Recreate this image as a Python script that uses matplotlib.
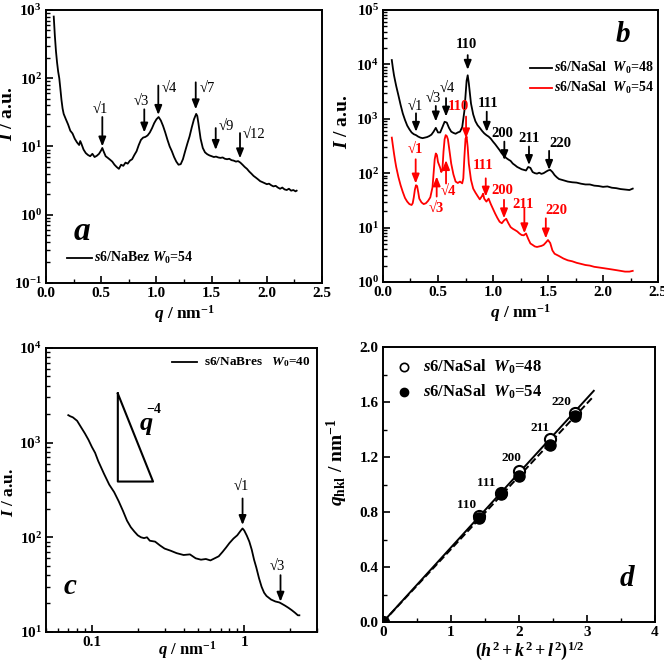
import matplotlib
matplotlib.use("Agg")
import matplotlib.pyplot as plt
import numpy as np
from matplotlib.ticker import LogLocator, MultipleLocator, NullFormatter, FixedLocator

plt.rcParams['font.family'] = ['Liberation Serif', 'DejaVu Serif']
plt.rcParams['font.weight'] = 'bold'
plt.rcParams['mathtext.fontset'] = 'custom'
plt.rcParams['mathtext.rm'] = 'Liberation Serif:bold'
plt.rcParams['mathtext.it'] = 'Liberation Serif:italic:bold'
plt.rcParams['mathtext.bf'] = 'Liberation Serif:bold'
plt.rcParams['axes.linewidth'] = 1.4

# ---------------- data ----------------
# panel a: s6/NaBez W0=54
qa = [0.07, 0.08, 0.09, 0.10, 0.11, 0.12, 0.13, 0.14, 0.15, 0.16, 0.18, 0.20, 0.22, 0.24,
      0.26, 0.28, 0.30, 0.31, 0.32, 0.34, 0.36, 0.38, 0.40, 0.42, 0.44, 0.46, 0.48, 0.50,
      0.51, 0.52, 0.54, 0.56, 0.58, 0.60, 0.62, 0.64, 0.66, 0.68, 0.70, 0.72, 0.74, 0.76,
      0.78, 0.80, 0.82, 0.84, 0.86, 0.88, 0.90, 0.92, 0.94, 0.96, 0.98, 1.00, 1.02, 1.04,
      1.06, 1.08, 1.10, 1.12, 1.14, 1.16, 1.18, 1.20, 1.22, 1.24, 1.26, 1.28, 1.30, 1.32,
      1.34, 1.36, 1.37, 1.38, 1.40, 1.42, 1.44, 1.46, 1.48, 1.50, 1.52, 1.54, 1.56, 1.58,
      1.60, 1.62, 1.64, 1.66, 1.68, 1.70, 1.72, 1.74, 1.76, 1.78, 1.80, 1.82, 1.84, 1.86,
      1.88, 1.90, 1.92, 1.94, 1.96, 1.98, 2.00, 2.02, 2.04, 2.06, 2.08, 2.10, 2.12, 2.14,
      2.16, 2.18, 2.20, 2.22, 2.24, 2.26, 2.27]
Ia = [800, 420, 250, 170, 125, 100, 70, 48, 36, 30, 25, 21, 17, 15.5,
      13, 11.5, 10.5, 12, 11, 9, 8, 7.5, 7.2, 7.8, 7.0, 7.3, 7.8, 8.8,
      9.5, 8.6, 7.2, 6.8, 6.4, 6.0, 5.4, 5.0, 4.7, 5.4, 5.2, 5.8, 5.6, 6.2,
      6.5, 7.5, 8.5, 10.5, 12.5, 13.5, 13.8, 14.5, 16, 18.5, 22, 25, 27, 24,
      20, 16, 12.5, 10, 8.5, 7.0, 6.0, 5.4, 5.5, 6.5, 8.5, 11, 14, 19,
      25, 30, 28, 22, 13, 9.5, 8.2, 7.7, 7.4, 7.2, 7.0, 7.1, 6.9, 6.8,
      6.9, 6.6, 6.5, 6.6, 6.3, 6.2, 6.0, 6.1, 5.8, 5.4, 5.0, 4.7, 4.3, 4.0,
      3.7, 3.5, 3.3, 3.1, 3.0, 2.9, 2.8, 2.85, 2.7, 2.6, 2.65, 2.5, 2.4, 2.5,
      2.35, 2.3, 2.4, 2.25, 2.3, 2.2, 2.25]
a_peaks = ['√1', '√3', '√4', '√7', '√9', '√12']
a_peak_q = [0.51, 0.89, 1.017, 1.356, 1.537, 1.757]

# panel b
qb48 = [0.08, 0.09, 0.10, 0.11, 0.12, 0.14, 0.16, 0.18, 0.20, 0.22, 0.24, 0.26, 0.28, 0.30,
        0.32, 0.34, 0.36, 0.38, 0.40, 0.42, 0.44, 0.46, 0.48, 0.50, 0.52, 0.54, 0.56, 0.58,
        0.60, 0.62, 0.64, 0.66, 0.68, 0.70, 0.72, 0.74, 0.76, 0.77, 0.78, 0.80, 0.82, 0.84,
        0.86, 0.88, 0.90, 0.92, 0.94, 0.96, 0.98, 1.00, 1.02, 1.04, 1.06, 1.08, 1.10, 1.12,
        1.14, 1.16, 1.18, 1.20, 1.22, 1.24, 1.26, 1.28, 1.30, 1.32, 1.34, 1.36, 1.38, 1.40,
        1.42, 1.44, 1.46, 1.48, 1.50, 1.52, 1.54, 1.56, 1.58, 1.60, 1.64, 1.68, 1.72, 1.76,
        1.80, 1.84, 1.88, 1.92, 1.96, 2.00, 2.04, 2.08, 2.12, 2.16, 2.20, 2.24, 2.27]
Ib48 = [12000, 8500, 6300, 5000, 4000, 2700, 1800, 1250, 950, 750, 640, 560, 520, 500,
        470, 450, 440, 450, 460, 480, 510, 580, 680, 560, 560, 700, 880, 850,
        680, 580, 550, 530, 560, 580, 700, 1400, 5000, 6300, 4500, 1900, 1200, 900,
        760, 680, 600, 540, 500, 470, 430, 380, 340, 300, 265, 230, 210, 190,
        178, 168, 150, 140, 130, 124, 118, 115, 112, 130, 125, 105, 100, 98,
        102, 97, 100, 106, 112, 115, 105, 92, 84, 78, 74, 70, 68, 67,
        64, 62, 62, 59, 58, 56, 57, 54, 53, 51, 50, 49, 52]
qb54 = [0.08, 0.09, 0.10, 0.11, 0.12, 0.14, 0.16, 0.18, 0.20, 0.22, 0.24, 0.26, 0.27, 0.28,
        0.29, 0.30, 0.31, 0.32, 0.33, 0.35, 0.37, 0.39, 0.41, 0.43, 0.45, 0.47, 0.48, 0.49,
        0.50, 0.52, 0.53, 0.54, 0.55, 0.56, 0.57, 0.58, 0.59, 0.60, 0.62, 0.64, 0.66, 0.68,
        0.70, 0.72, 0.73, 0.74, 0.75, 0.76, 0.77, 0.78, 0.80, 0.82, 0.84, 0.86, 0.88, 0.90,
        0.91, 0.92, 0.94, 0.96, 0.98, 1.00, 1.02, 1.04, 1.06, 1.08, 1.10, 1.12, 1.14, 1.16,
        1.18, 1.20, 1.22, 1.24, 1.26, 1.28, 1.30, 1.32, 1.34, 1.36, 1.38, 1.40, 1.42, 1.44,
        1.46, 1.48, 1.50, 1.52, 1.54, 1.56, 1.60, 1.64, 1.68, 1.72, 1.76, 1.80, 1.84, 1.88,
        1.92, 1.96, 2.00, 2.04, 2.08, 2.12, 2.16, 2.20, 2.24, 2.27]
Ib54 = [450, 320, 230, 170, 130, 85, 60, 45, 35, 30, 27, 26, 28, 36,
        50, 60, 58, 45, 34, 29, 27, 28, 31, 36, 55, 180, 230, 215,
        160, 125, 105, 115, 250, 420, 500, 480, 420, 300, 150, 95, 70, 66,
        70, 65, 80, 200, 430, 470, 300, 150, 75, 52, 44, 38, 33, 38,
        42, 34, 30, 34, 27, 22, 18, 15, 12.8, 12, 13.5, 14.5, 12, 10.2,
        9.5, 9.0, 8.5, 7.8, 7.3, 7.2, 7.8, 6.2, 5.1, 4.8, 4.5, 4.4, 4.5, 4.6,
        4.8, 5.3, 5.9, 5.2, 3.8, 3.3, 3.0, 2.7, 2.5, 2.4, 2.25, 2.15, 2.05, 2.0,
        1.9, 1.85, 1.8, 1.75, 1.7, 1.65, 1.6, 1.55, 1.55, 1.6]
b_labels = ['√1', '√3', '√4', '110', '111', '200', '211', '220']
b48_q = [0.30, 0.48, 0.573, 0.77, 0.943, 1.103, 1.327, 1.51]
b54_q = [0.297, 0.488, 0.573, 0.755, 0.934, 1.10, 1.285, 1.48]

# panel c: s6/NaBres W0=40
qc = [0.070, 0.072, 0.075, 0.080, 0.085, 0.090, 0.095, 0.100, 0.105, 0.110, 0.120, 0.130,
      0.140, 0.150, 0.160, 0.170, 0.180, 0.190, 0.200, 0.210, 0.220, 0.230, 0.240, 0.260,
      0.280, 0.300, 0.330, 0.360, 0.400, 0.440, 0.480, 0.520, 0.560, 0.600, 0.640, 0.680,
      0.720, 0.760, 0.800, 0.850, 0.900, 0.950, 0.975, 1.000, 1.040, 1.080, 1.120, 1.160,
      1.200, 1.250, 1.300, 1.350, 1.400, 1.500, 1.600, 1.700, 1.750, 1.850, 1.950, 2.050,
      2.150, 2.250, 2.300]
Ic = [1950, 1900, 1850, 1700, 1450, 1250, 1070, 900, 780, 640, 470, 360,
      300, 240, 190, 150, 128, 115, 105, 100, 98, 100, 92, 90,
      82, 76, 72, 68, 65, 66, 60, 58, 59, 57, 60, 63,
      70, 78, 87, 97, 105, 118, 124, 118, 104, 90, 74, 58,
      48, 37, 30, 26, 24, 22, 21, 20.5, 20, 19, 18, 17,
      16, 15, 15]
c_peaks = ['√1', '√3']
c_peak_q = [0.975, 1.73]

# panel d
hkl = ['110', '111', '200', '211', '220']
sqrt_hkl = [0.0, 1.414, 1.732, 2.0, 2.449, 2.828]
qhkl_48 = [0.0, 0.77, 0.94, 1.10, 1.33, 1.52]
qhkl_54 = [0.0, 0.755, 0.93, 1.06, 1.29, 1.495]

# ---------------- figure ----------------
fig = plt.figure(figsize=(6.64, 6.63), dpi=100)
axa = fig.add_axes([0.0693, 0.5732, 0.4157, 0.4118])
axb = fig.add_axes([0.5768, 0.5747, 0.4142, 0.4103])
axc = fig.add_axes([0.0693, 0.0468, 0.4080, 0.4284])
axd = fig.add_axes([0.5768, 0.0618, 0.4096, 0.4148])

TICK = 11

def style(ax):
    ax.tick_params(which='both', direction='in', top=False, right=False, labelsize=TICK)
    ax.tick_params(which='major', length=5, width=1.2, pad=3)
    ax.tick_params(which='minor', length=3, width=1.0)
    for t in ax.get_xticklabels() + ax.get_yticklabels():
        t.set_fontweight('bold')

def arrow(ax, x, y0, y1, color='black'):
    ax.annotate('', xy=(x, y1), xytext=(x, y0),
                arrowprops=dict(arrowstyle='-|>,head_length=0.55,head_width=0.22',
                                color=color, lw=1.3, shrinkA=0, shrinkB=0))

def labels(ax, ylab, ysize, ycoords, xlab, xsize, xcoords):
    ax.set_ylabel(ylab, fontsize=ysize, fontweight='bold')
    ax.yaxis.set_label_coords(*ycoords)
    ax.set_xlabel(xlab, fontsize=xsize, fontweight='bold')
    ax.xaxis.set_label_coords(*xcoords)

# ---- a ----
axa.plot(qa, Ia, color='black', lw=1.3)
axa.set_yscale('log')
axa.set_xlim(0, 2.5)
axa.set_ylim(0.1, 1000)
axa.xaxis.set_major_locator(MultipleLocator(0.5))
axa.xaxis.set_minor_locator(MultipleLocator(0.25))
axa.xaxis.set_major_formatter(plt.FormatStrFormatter('%.1f'))
axa.yaxis.set_major_locator(LogLocator(base=10, numticks=10))
axa.yaxis.set_minor_locator(LogLocator(base=10, subs=np.arange(2, 10), numticks=10))
axa.yaxis.set_minor_formatter(NullFormatter())
style(axa)
labels(axa, r'$I$ / a.u.', 14, (-0.11, 0.62), r'$q$ / nm$^{-1}$', 12.5, (0.5, -0.075))
a_tail = [27, 35, 78, 87, 18.6, 15.7]
a_tip = [10, 16, 29, 35, 8.9, 6.7]
a_lab_xy = [(0.49, 35, 'center'), (0.867, 46, 'center'), (1.05, 71, 'left'),
            (1.39, 71, 'left'), (1.56, 19.5, 'left'), (1.78, 14.8, 'left')]
for lab, q, t0, t1, (lx, ly, ha) in zip(a_peaks, a_peak_q, a_tail, a_tip, a_lab_xy):
    arrow(axa, q, t0, t1)
    axa.text(lx, ly, lab, fontsize=10.5, fontweight='normal', ha=ha, va='center')
axa.text(0.13, 0.19, 'a', transform=axa.transAxes, fontsize=24, fontweight='bold',
         fontstyle='italic', ha='center', va='center')
axa.plot([0.075, 0.166], [0.09, 0.09], transform=axa.transAxes, color='black', lw=1.3)
axa.text(0.174, 0.09, r'$s$6/NaBez $W_0$=54', transform=axa.transAxes, fontsize=10,
         fontweight='bold', ha='left', va='center')

# ---- b ----
axb.plot(qb48, Ib48, color='black', lw=1.3)
axb.plot(qb54, Ib54, color='red', lw=1.3)
axb.set_yscale('log')
axb.set_xlim(0, 2.5)
axb.set_ylim(1, 1e5)
axb.xaxis.set_major_locator(MultipleLocator(0.5))
axb.xaxis.set_minor_locator(MultipleLocator(0.25))
axb.xaxis.set_major_formatter(plt.FormatStrFormatter('%.1f'))
axb.yaxis.set_major_locator(LogLocator(base=10, numticks=10))
axb.yaxis.set_minor_locator(LogLocator(base=10, subs=np.arange(2, 10), numticks=10))
axb.yaxis.set_minor_formatter(NullFormatter())
style(axb)
labels(axb, r'$I$ / a.u.', 14, (-0.116, 0.59), r'$q$ / nm$^{-1}$', 12.5, (0.5, -0.075))
b48_tail = [10**3.10, 10**3.235, 10**3.38, 10**4.17, 10**3.13, 10**2.58, 10**2.49, 10**2.41]
b48_tip = [10**2.76, 10**2.95, 10**3.04, 10**3.90, 10**2.76, 10**2.24, 10**2.15, 10**2.06]
b48_lab = [(0.29, 10**3.22), (0.458, 10**3.38), (0.58, 10**3.56), (0.76, 10**4.36),
           (0.957, 10**3.285), (1.088, 10**2.73), (1.327, 10**2.64), (1.61, 10**2.55)]
for lab, q, t0, t1, (lx, ly) in zip(b_labels, b48_q, b48_tail, b48_tip, b48_lab):
    arrow(axb, q, t0, t1, 'black')
    fw = 'normal' if lab.startswith('√') else 'bold'
    axb.text(lx, ly, lab, fontsize=10.5, fontweight=fw, ha='center', va='center', color='black')
b54_tail = [10**2.255, 10**1.57, 10**1.81, 10**3.04, 10**1.905, 10**1.51, 10**1.355, 10**1.17]
b54_tip = [10**1.81, 10**1.94, 10**2.24, 10**2.64, 10**1.57, 10**1.17, 10**0.895, 10**0.80]
b54_lab = [(0.29, 10**2.43), (0.488, 10**1.355), (0.594, 10**1.66), (0.69, 10**3.22),
           (0.91, 10**2.15), (1.088, 10**1.69), (1.27, 10**1.415), (1.58, 10**1.32)]
for lab, q, t0, t1, (lx, ly) in zip(b_labels, b54_q, b54_tail, b54_tip, b54_lab):
    arrow(axb, q, t0, t1, 'red')
    axb.text(lx, ly, lab, fontsize=10.5, fontweight='bold', ha='center', va='center', color='red')
axb.text(0.874, 0.908, 'b', transform=axb.transAxes, fontsize=21, fontweight='bold',
         fontstyle='italic', ha='center', va='center')
for yy, col, w in [(0.786, 'black', '48'), (0.714, 'red', '54')]:
    axb.plot([0.535, 0.614], [yy, yy], transform=axb.transAxes, color=col, lw=1.3)
    axb.text(0.622, yy, r'$s$6/NaSal  $W_0$=' + w, transform=axb.transAxes, fontsize=10,
             fontweight='bold', ha='left', va='center')

# ---- c ----
axc.plot(qc, Ic, color='black', lw=1.3)
axc.set_xscale('log')
axc.set_yscale('log')
axc.set_xlim(0.05, 3)
axc.set_ylim(10, 1e4)
axc.xaxis.set_major_locator(FixedLocator([0.1, 1]))
axc.xaxis.set_major_formatter(plt.FixedFormatter(['0.1', '1']))
axc.xaxis.set_minor_locator(LogLocator(base=10, subs=np.arange(2, 10), numticks=10))
axc.xaxis.set_minor_formatter(NullFormatter())
axc.yaxis.set_major_locator(LogLocator(base=10, numticks=10))
axc.yaxis.set_minor_locator(LogLocator(base=10, subs=np.arange(2, 10), numticks=10))
axc.yaxis.set_minor_formatter(NullFormatter())
style(axc)
labels(axc, r'$I$ / a.u.', 12.5, (-0.107, 0.49), r'$q$ / nm$^{-1}$', 12, (0.52, -0.025))
c_tail = [10**2.41, 10**1.60]
c_tip = [10**2.13, 10**1.32]
c_lab = [(0.95, 10**2.535), (1.65, 10**1.69)]
for lab, q, t0, t1, (lx, ly) in zip(c_peaks, c_peak_q, c_tail, c_tip, c_lab):
    arrow(axc, q, t0, t1)
    axc.text(lx, ly, lab, fontsize=10.5, fontweight='normal', ha='center', va='center')
# q^-4 slope triangle
tri_q = [0.148, 0.148, 0.252, 0.148]
tri_I = [3300, 388, 388, 3300]
axc.plot(tri_q, tri_I, color='black', lw=1.5)
axc.text(0.229, 10**3.18, r'$q$', fontsize=19, ha='center', va='center')
axc.text(0.254, 10**3.35, '\u22124', fontsize=10, fontweight='bold', ha='center', va='center')
axc.text(0.089, 0.159, 'c', transform=axc.transAxes, fontsize=21, fontweight='bold',
         fontstyle='italic', ha='center', va='center')
axc.plot([0.465, 0.556], [0.951, 0.951], transform=axc.transAxes, color='black', lw=1.3)
axc.text(0.583, 0.951, r's6/NaBres   $W_0$=40', transform=axc.transAxes, fontsize=9.5,
         fontweight='bold', ha='left', va='center')

# ---- d ----
xs = np.array(sqrt_hkl)
for ys, ls in [(np.array(qhkl_48), '-'), (np.array(qhkl_54), '--')]:
    k = np.sum(xs * ys) / np.sum(xs * xs)
    xx = np.array([0.0, 3.1])
    axd.plot(xx, k * xx, color='black', lw=1.4, ls=ls)
axd.plot(sqrt_hkl, qhkl_48, 'o', ms=8, mfc='white', mec='black', mew=1.5, ls='none')
axd.plot(sqrt_hkl, qhkl_54, 'o', ms=8, mfc='black', mec='black', ls='none')
axd.set_xlim(0, 4)
axd.set_ylim(0, 2.0)
axd.xaxis.set_major_locator(MultipleLocator(1))
axd.xaxis.set_minor_locator(MultipleLocator(0.5))
axd.yaxis.set_major_locator(MultipleLocator(0.4))
axd.yaxis.set_minor_locator(MultipleLocator(0.2))
axd.xaxis.set_major_formatter(plt.FormatStrFormatter('%d'))
axd.yaxis.set_major_formatter(plt.FormatStrFormatter('%.1f'))
style(axd)
labels(axd, r'$q_{\rm hkl}$ / nm$^{-1}$', 14, (-0.121, 0.58),
       r'$(h^2 + k^2 + l^2)^{1/2}$', 13, (0.54, -0.062))
d_lab_off = [(-0.18, 0.08), (-0.21, 0.07), (-0.11, 0.09), (-0.14, 0.08), (-0.20, 0.08)]
for lab, x, y, (dx, dy) in zip(hkl, sqrt_hkl[1:], qhkl_48[1:], d_lab_off):
    axd.text(x + dx, y + dy, lab, fontsize=9.5, fontweight='bold', ha='center', va='center')
axd.text(0.896, 0.158, 'd', transform=axd.transAxes, fontsize=21, fontweight='bold',
         fontstyle='italic', ha='center', va='center')
axd.plot([0.077], [0.927], 'o', ms=6, mfc='white', mec='black', mew=1.2, transform=axd.transAxes)
axd.plot([0.077], [0.836], 'o', ms=6, mfc='black', mec='black', transform=axd.transAxes)
axd.text(0.147, 0.927, r'$s$6/NaSal  $W_0$=48', transform=axd.transAxes, fontsize=12,
         fontweight='bold', ha='left', va='center')
axd.text(0.147, 0.836, r'$s$6/NaSal  $W_0$=54', transform=axd.transAxes, fontsize=12,
         fontweight='bold', ha='left', va='center')

fig.savefig('out.png', dpi=100)
